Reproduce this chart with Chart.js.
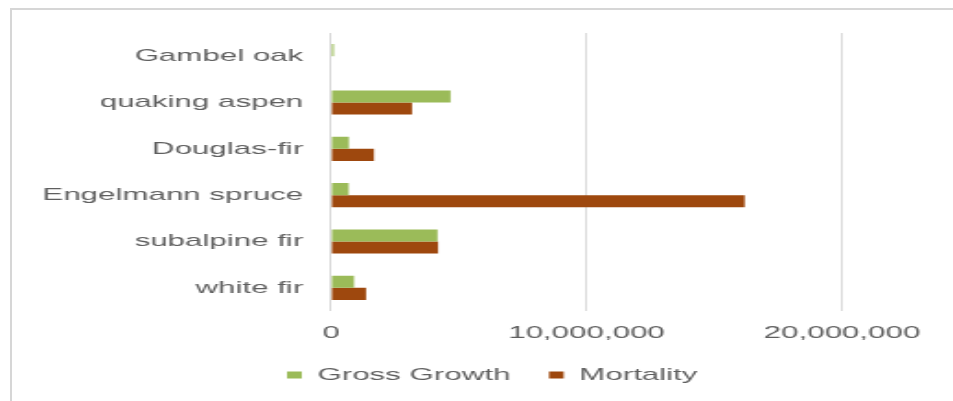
<!DOCTYPE html>
<html>
<head>
<meta charset="utf-8">
<title>Gross growth and mortality by species</title>
<script src="https://cdn.jsdelivr.net/npm/chart.js@4/dist/chart.umd.min.js"></script>
<style>
    html, body { margin: 0; width: 953px; height: 401px; overflow: hidden; background: #fff; }
    #frame {
        position: absolute; left: 10px; top: 8px; width: 1000px; height: 500px;
        border-left: 2px solid #d6d6d6; border-top: 2px solid #d6d6d6;
    }
    /* chart is laid out narrow and stretched sideways */
    #wrap {
        position: absolute; left: 0; top: 0; width: 518px; height: 401px;
        transform: scaleX(1.84); transform-origin: 0 0;
    }
</style>
</head>
<body>
<div id="frame"></div>
<div id="wrap"><canvas id="chartGrowth"></canvas></div>
<script>
const categories = ['Gambel oak', 'quaking aspen', 'Douglas-fir', 'Engelmann spruce', 'subalpine fir', 'white fir'];
const grossGrowth = [110000, 4680000, 700000, 690000, 4170000, 900000];
const mortality = [0, 3170000, 1680000, 16190000, 4190000, 1370000];
const xTicks = [0, 10000000, 20000000];

const textColor = '#5f5f5f';
const gridColor = '#d9d9d9';
const font = { family: "'Liberation Sans', Arial, sans-serif", size: 17 };

// nudge the bottom legend so it sits under the plot rather than the whole canvas
const legendShift = {
    id: 'legendShift',
    afterLayout(chart, _args, options) {
        const legend = chart.legend;
        if (!legend) return;
        legend.left += options.offset || 0;
        legend.right += options.offset || 0;
    },
};

new Chart(document.getElementById('chartGrowth'), {
    type: 'bar',
    data: {
        labels: categories,
        datasets: [
            {
                label: 'Gross Growth',
                data: grossGrowth,
                backgroundColor: '#9bbb59',
                borderWidth: 0,
                categoryPercentage: .52,
                barPercentage: 1,
            },
            {
                label: 'Mortality',
                data: mortality,
                backgroundColor: '#9e480e',
                borderWidth: 0,
                categoryPercentage: .52,
                barPercentage: 1,
            },
        ],
    },
    plugins: [legendShift],
    options: {
        indexAxis: 'y',
        responsive: true,
        maintainAspectRatio: false,
        animation: false,
        layout: { padding: { left: 10, right: 60.4, top: 33, bottom: 7.5 } },
        plugins: {
            tooltip: { enabled: false },
            legendShift: { offset: 33.75 },
            legend: {
                position: 'bottom',
                labels: { color: textColor, font, boxWidth: 8, boxHeight: 7, padding: 21 },
            },
        },
        scales: {
            x: {
                min: 0,
                max: 20000000,
                afterBuildTicks: (scale) => { scale.ticks = xTicks.map((value) => ({ value })); },
                afterFit: (scale) => { scale.height = 34.5; },
                ticks: {
                    color: textColor,
                    font,
                    padding: 11.8,
                    autoSkip: false,
                    maxRotation: 0,
                    callback: (value) => Number(value).toLocaleString('en-US'),
                },
                grid: { color: gridColor, drawTicks: false },
                border: { display: false },
            },
            y: {
                afterFit: (scale) => { scale.width = 169.9; },
                ticks: { color: textColor, font, padding: 15.1 },
                grid: { display: false, drawTicks: false },
                border: { display: false },
            },
        },
    },
});
</script>
</body>
</html>
